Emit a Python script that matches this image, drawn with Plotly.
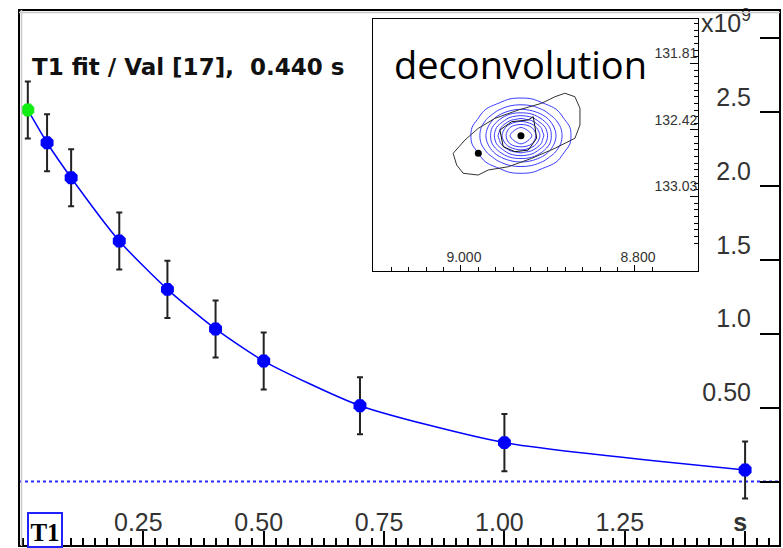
import plotly.graph_objects as go

# ---------------- data ----------------
delay_s = [0.01, 0.05, 0.10, 0.20, 0.30, 0.40, 0.50, 0.70, 1.00, 1.50]
intensity = [2.514e9, 2.292e9, 2.055e9, 1.627e9, 1.300e9, 1.032e9, 0.815e9, 0.513e9, 0.263e9, 0.078e9]
intensity_err = [0.193e9, 0.193e9, 0.193e9, 0.193e9, 0.193e9, 0.193e9, 0.193e9, 0.193e9, 0.193e9, 0.193e9]

x_tickvals = [0.25, 0.50, 0.75, 1.00, 1.25, 1.50]
x_ticktext = ["0.25", "0.50", "0.75", "1.00", "1.25", "<b>s</b>"]
y_tickvals = [0.5e9, 1.0e9, 1.5e9, 2.0e9, 2.5e9, 3.0e9]
y_ticktext = ["0.50", "1.0", "1.5", "2.0", "2.5", "x10<sup>9</sup>"]
y_unlabelled_ticks = [0.0]

title_text = "T1 fit / Val [17],&nbsp; 0.440 s"

# inset: deconvolved peak (fitted lineshape grid) and experimental contour outline
ppm_h = [8.8685, 8.8810, 8.8935, 8.9060, 8.9185, 8.9310, 8.9435, 8.9560, 8.9685, 8.9810, 8.9935]
ppm_c = [132.097, 132.172, 132.247, 132.322, 132.397, 132.472, 132.547, 132.622, 132.697, 132.772, 132.847]
fit_z = [
    [0, 1, 1, 3, 4, 4, 4, 3, 1, 1, 0],
    [1, 2, 4, 8, 12, 14, 12, 8, 4, 2, 1],
    [1, 4, 11, 20, 29, 32, 29, 20, 11, 4, 1],
    [3, 8, 20, 37, 54, 61, 54, 37, 20, 8, 3],
    [4, 12, 29, 54, 78, 88, 78, 54, 29, 12, 4],
    [4, 14, 32, 61, 88, 100, 88, 61, 32, 14, 4],
    [4, 12, 29, 54, 78, 88, 78, 54, 29, 12, 4],
    [3, 8, 20, 37, 54, 61, 54, 37, 20, 8, 3],
    [1, 4, 11, 20, 29, 32, 29, 20, 11, 4, 1],
    [1, 2, 4, 8, 12, 14, 12, 8, 4, 2, 1],
    [0, 1, 1, 3, 4, 4, 4, 3, 1, 1, 0],
]
outline_h = [9.0089, 8.9954, 8.9801, 8.9609, 8.9341, 8.9072, 8.8920, 8.8805, 8.8690, 8.8632,
             8.8632, 8.8690, 8.8920, 8.9187, 8.9456, 8.9686, 8.9801, 8.9974, 9.0049, 9.0089]
outline_c = [132.634, 132.512, 132.405, 132.313, 132.237, 132.175, 132.115, 132.083, 132.115, 132.221,
             132.374, 132.496, 132.588, 132.680, 132.757, 132.787, 132.833, 132.817, 132.741, 132.634]
inner_h = [8.9552, 8.9417, 8.9226, 8.9169, 8.9149, 8.9130, 8.9226, 8.9379, 8.9514, 8.9552]
inner_c = [132.420, 132.344, 132.328, 132.298, 132.390, 132.496, 132.604, 132.619, 132.573, 132.420]
peak_h = [8.931, 8.980]
peak_c = [132.472, 132.634]

inset_xtickvals = [9.000, 8.800]
inset_xticktext = ["9.000", "8.800"]
inset_ytickvals = [131.81, 132.42, 133.03]
inset_yticktext = ["131.81", "132.42", "133.03"]

# ---------------- figure ----------------
BLUE = "#0000ff"
GREEN = "#11ee11"
marker_colors = [GREEN] + [BLUE] * (len(delay_s) - 1)

fig = go.Figure()

fig.add_trace(go.Scatter(
    x=delay_s, y=intensity, mode="lines",
    line=dict(color=BLUE, width=1.5, shape="spline", smoothing=0.6),
    hoverinfo="skip"))
fig.add_trace(go.Scatter(
    x=delay_s, y=intensity, mode="markers",
    marker=dict(color=marker_colors, size=14, symbol="octagon", line=dict(width=0)),
    error_y=dict(type="data", array=intensity_err, color="#222222", thickness=2, width=3)))

# inset traces
fig.add_trace(go.Contour(
    x=ppm_h, y=ppm_c, z=fit_z, xaxis="x2", yaxis="y2",
    contours=dict(coloring="lines", start=8, end=98, size=10),
    colorscale=[[0, "#3a3aff"], [1, "#3a3aff"]], line=dict(width=1),
    showscale=False, hoverinfo="skip"))
fig.add_trace(go.Scatter(x=outline_h, y=outline_c, xaxis="x2", yaxis="y2", mode="lines",
                         line=dict(color="#333333", width=1)))
fig.add_trace(go.Scatter(x=inner_h, y=inner_c, xaxis="x2", yaxis="y2", mode="lines",
                         line=dict(color="#111111", width=1)))
fig.add_trace(go.Scatter(x=peak_h, y=peak_c, xaxis="x2", yaxis="y2", mode="markers",
                         marker=dict(color="black", size=7)))

tick_font = dict(family="Liberation Sans, Arial, sans-serif", size=25, color="#333333")
inset_font = dict(family="Liberation Sans, Arial, sans-serif", size=14, color="#333333")

fig.update_layout(
    width=783, height=548,
    margin=dict(l=19, r=3, t=10, b=2),
    paper_bgcolor="white", plot_bgcolor="white",
    showlegend=False,
    xaxis=dict(
        domain=[0, 1], range=[-0.0083, 1.5725],
        anchor="free", position=0, side="top",
        showline=True, linecolor="black", linewidth=2,
        ticks="outside", ticklen=14, tickwidth=1.5, tickcolor="black",
        tickmode="array", tickvals=x_tickvals, ticktext=x_ticktext,
        tickfont=tick_font, ticklabelshift=-5, ticklabelstandoff=-10,
        showgrid=False, zeroline=False,
        minor=dict(ticks="outside", dtick=0.025, tick0=0, ticklen=7, tickwidth=1.5,
                   tickcolor="black", showgrid=False),
    ),
    yaxis=dict(
        domain=[0, 1], range=[-0.4364e9, 3.190e9],
        anchor="free", position=1, side="left",
        showline=True, linecolor="black", linewidth=2,
        ticks="outside", ticklen=19, tickwidth=2, tickcolor="black",
        tickmode="array", tickvals=y_tickvals, ticktext=y_ticktext,
        tickfont=tick_font, ticklabelshift=-15, ticklabelstandoff=4,
        showgrid=False, zeroline=False,
        minor=dict(ticks="outside", tickmode="array", tickvals=y_unlabelled_ticks,
                   ticklen=19, tickwidth=2, tickcolor="black", showgrid=False),
    ),
    xaxis2=dict(
        domain=[0.4652, 0.8922], anchor="y2", range=[9.101, 8.7276],
        showline=True, linecolor="black", linewidth=1, mirror=True,
        ticks="inside", ticklen=6, tickwidth=1, tickcolor="black",
        tickmode="array", tickvals=inset_xtickvals, ticktext=inset_xticktext,
        ticklabelposition="inside", tickfont=inset_font, ticklabelshift=-3,
        showgrid=False, zeroline=False,
        minor=dict(ticks="inside", dtick=0.02, tick0=8.8, ticklen=4, tickwidth=1,
                   tickcolor="black", showgrid=False),
    ),
    yaxis2=dict(
        domain=[0.5131, 0.9832], anchor="x2", side="right", range=[133.713, 131.402],
        showline=True, linecolor="black", linewidth=1, mirror=True,
        ticks="inside", ticklen=8, tickwidth=1, tickcolor="black",
        tickmode="array", tickvals=inset_ytickvals, ticktext=inset_yticktext,
        ticklabelposition="inside top", tickfont=inset_font,
        showgrid=False, zeroline=False,
        minor=dict(ticks="inside", dtick=0.061, tick0=131.81, ticklen=4, tickwidth=1,
                   tickcolor="black", showgrid=False),
    ),
    shapes=[
        dict(type="line", xref="paper", yref="y", x0=0, x1=1, y0=0, y1=0,
             line=dict(color="#2a2aff", width=2, dash="dot"), layer="below"),
        dict(type="rect", xref="paper", yref="paper", x0=0, x1=1, y0=0, y1=1,
             line=dict(color="black", width=2)),
        dict(type="line", xref="paper", yref="paper", x0=0.0033, x1=0.0033, y0=0, y1=1,
             line=dict(color="#c8c8c8", width=1.5)),
        dict(type="line", xref="paper", yref="paper", x0=0, x1=1, y0=0.9953, y1=0.9953,
             line=dict(color="#c8c8c8", width=1.5)),
    ],
    annotations=[
        dict(text=title_text, xref="paper", yref="paper", x=0.0145, y=0.8937,
             xanchor="left", yanchor="middle", showarrow=False,
             font=dict(family="DejaVu Sans, sans-serif", size=23, color="#111111", weight="bold")),
        dict(text="deconvolution", xref="x2 domain", yref="y2 domain", x=0.455, y=0.821,
             xanchor="center", yanchor="middle", showarrow=False,
             font=dict(family="Open Sans, sans-serif", size=38, color="black")),
        dict(text="<b>T1</b>", xref="paper", yref="paper", x=0.0105, y=-0.004,
             xanchor="left", yanchor="bottom", showarrow=False,
             font=dict(family="Liberation Serif, serif", size=25, color="black"),
             bordercolor="#2222ff", borderwidth=2, borderpad=0, width=32, height=32,
             valign="bottom", bgcolor="white"),
    ],
)

fig.write_html("out.html")
